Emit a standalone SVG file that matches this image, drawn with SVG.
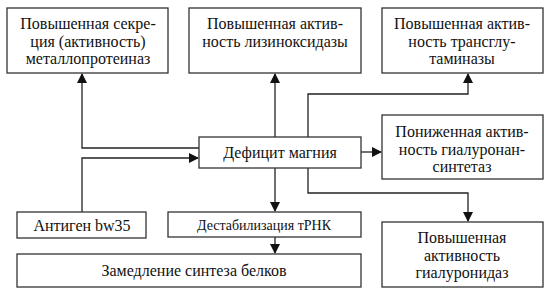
<svg xmlns="http://www.w3.org/2000/svg" width="560" height="296" viewBox="0 0 560 296">
<style>
.box{fill:#fff;stroke:#333;stroke-width:1.3}
.t{font-family:"Liberation Serif","Times New Roman",serif;font-size:16px;fill:#111;text-anchor:middle}
.s{font-size:14px}
.c{fill:none;stroke:#222;stroke-width:1.3;marker-end:url(#ah)}
</style>
<defs>
<marker id="ah" markerUnits="userSpaceOnUse" markerWidth="10" markerHeight="10" refX="9" refY="5" orient="auto" viewBox="0 0 10 10">
<path d="M0,0 L10,5 L0,10 z" fill="#111"/>
</marker>
</defs>
<rect width="560" height="296" fill="#fff"/>
<g id="connectors">
<path class="c" d="M199,148 H82 V74"/>
<path class="c" d="M275,137 V74"/>
<path class="c" d="M308,137 V94 H468 V74"/>
<path class="c" d="M82,212 V158 H198"/>
<path class="c" d="M361,152 H381"/>
<path class="c" d="M308,168 V193 H468 V221"/>
<path class="c" d="M275,168 V211"/>
<path class="c" d="M275,237 V253"/>
</g>
<g id="n_metallo">
<rect class="box" x="7" y="8" width="161" height="65"/>
<text class="t" x="88" y="29">Повышенная секре-</text>
<text class="t" x="88" y="46.5">ция (активность)</text>
<text class="t" x="88" y="64">металлопротеиназ</text>
</g>
<g id="n_lysyl">
<rect class="box" x="189" y="8" width="172" height="65"/>
<text class="t" x="275" y="29">Повышенная актив-</text>
<text class="t" x="275" y="46.5">ность лизиноксидазы</text>
</g>
<g id="n_transglut">
<rect class="box" x="382" y="8" width="161" height="65"/>
<text class="t" x="462" y="29">Повышенная актив-</text>
<text class="t" x="462" y="46.5">ность трансглу-</text>
<text class="t" x="462" y="64">таминазы</text>
</g>
<g id="n_deficit">
<rect class="box" x="199" y="137" width="162" height="31"/>
<text class="t" x="280" y="158">Дефицит магния</text>
</g>
<g id="n_hyalsynth">
<rect class="box" x="382" y="115" width="161" height="64"/>
<text class="t" x="462" y="137">Пониженная актив-</text>
<text class="t" x="462" y="154.5">ность гиалуронан-</text>
<text class="t" x="462" y="172">синтетаз</text>
</g>
<g id="n_antigen">
<rect class="box" x="17" y="212" width="129" height="26"/>
<text class="t" x="82" y="231">Антиген bw35</text>
</g>
<g id="n_destab">
<rect class="box" x="168" y="212" width="193" height="25"/>
<text class="t s" x="264" y="230">Дестабилизация тРНК</text>
</g>
<g id="n_slowdown">
<rect class="box" x="17" y="254" width="344" height="33"/>
<text class="t" x="194" y="276">Замедление синтеза белков</text>
</g>
<g id="n_hyaluronidase">
<rect class="box" x="382" y="222" width="161" height="65"/>
<text class="t" x="462" y="243">Повышенная</text>
<text class="t" x="462" y="260.5">активность</text>
<text class="t" x="462" y="278">гиалуронидаз</text>
</g>
</svg>
